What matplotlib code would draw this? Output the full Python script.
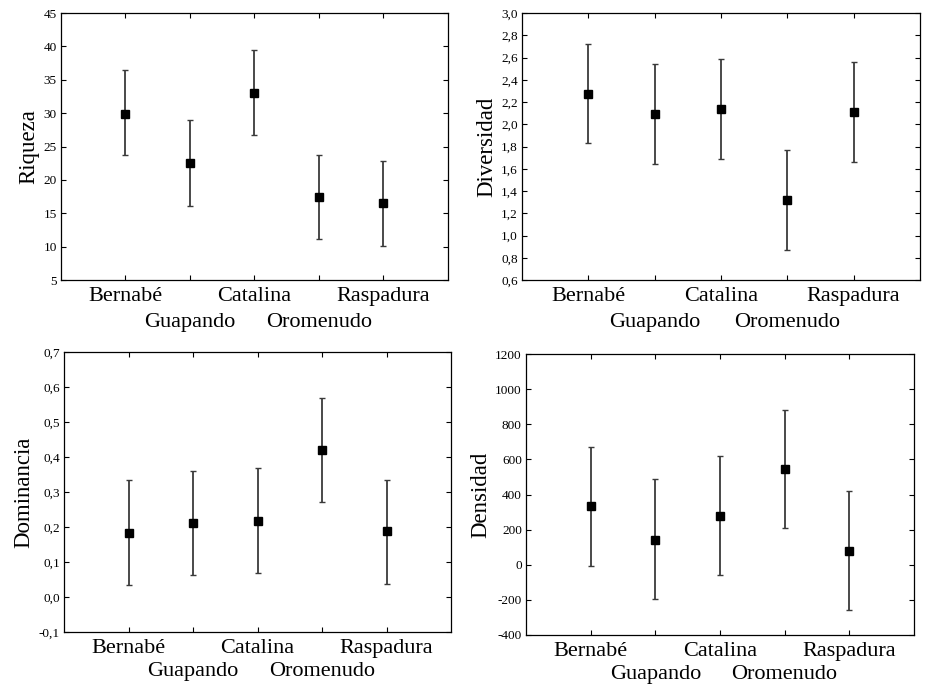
import numpy as np
import matplotlib
matplotlib.use("Agg")
import matplotlib.pyplot as plt
from matplotlib.ticker import FuncFormatter

plt.rcParams['font.family'] = ['Liberation Serif', 'DejaVu Serif']
plt.rcParams['axes.unicode_minus'] = False

sites = ["Bernabé", "Guapando", "Catalina", "Oromenudo", "Raspadura"]

riqueza_mean = [29.9, 22.6, 33.0, 17.5, 16.6]
riqueza_low = [23.7, 16.1, 26.7, 11.2, 10.1]
riqueza_high = [36.4, 29.0, 39.4, 23.8, 22.9]

diversidad_mean = [2.27, 2.09, 2.14, 1.32, 2.11]
diversidad_low = [1.83, 1.64, 1.69, 0.87, 1.66]
diversidad_high = [2.72, 2.54, 2.59, 1.77, 2.56]

dominancia_mean = [0.183, 0.212, 0.216, 0.420, 0.188]
dominancia_low = [0.033, 0.062, 0.068, 0.271, 0.036]
dominancia_high = [0.334, 0.360, 0.370, 0.570, 0.334]

densidad_mean = [336, 142, 275, 545, 80]
densidad_low = [-6, -194, -57, 207, -257]
densidad_high = [671, 486, 619, 883, 418]

# name, data, y ticks, label format, axes rect, offset of the second row of names
panels = [
    ("Riqueza", riqueza_mean, riqueza_low, riqueza_high, np.arange(5, 46, 5), "{:.0f}",
     [0.0657, 0.5924, 0.417, 0.3886], 34),
    ("Diversidad", diversidad_mean, diversidad_low, diversidad_high, np.arange(0.6, 3.01, 0.2), "{:.1f}",
     [0.5625, 0.5924, 0.4289, 0.3886], 34),
    ("Dominancia", dominancia_mean, dominancia_low, dominancia_high, np.arange(-0.1, 0.71, 0.1), "{:.1f}",
     [0.069, 0.080, 0.417, 0.4076], 31.5),
    ("Densidad", densidad_mean, densidad_low, densidad_high, np.arange(-400, 1201, 200), "{:.0f}",
     [0.5668, 0.0757, 0.418, 0.409], 31.5),
]

fig = plt.figure(figsize=(9.28, 6.87), dpi=100)

for name, mean, low, high, yticks, fmt, rect, row2 in panels:
    ax = fig.add_axes(rect)
    x = np.arange(1, len(sites) + 1)
    mean = np.array(mean)
    yerr = [mean - np.array(low), np.array(high) - mean]
    ax.errorbar(x, mean, yerr=yerr, fmt='none', ecolor='#3a3a3a',
                elinewidth=1.3, capsize=2.5, capthick=1.0)
    ax.plot(x, mean, 's', color='black', markersize=5.5, zorder=3)
    ax.set_xlim(0, 6)
    ax.set_ylim(yticks[0], yticks[-1])
    ax.set_yticks(yticks)
    ax.yaxis.set_major_formatter(FuncFormatter(lambda v, p, f=fmt: f.format(v).replace('.', ',').replace('-0,0', '0,0')))
    ax.set_xticks(x)
    # first row of site names as tick labels, second row underneath
    ax.set_xticklabels([s if i % 2 == 0 else "" for i, s in enumerate(sites)], fontsize=16)
    for i, s in enumerate(sites):
        if i % 2 == 1:
            ax.annotate(s, xy=(x[i], 0), xycoords=ax.get_xaxis_transform(),
                        xytext=(0, -row2), textcoords='offset points',
                        ha='center', va='baseline', fontsize=16)
    ax.tick_params(axis='y', labelsize=9.5, direction='in', right=True, length=3.5, pad=3)
    ax.tick_params(axis='x', direction='in', top=True, length=3.5, pad=5)
    ax.set_ylabel(name, fontsize=16.5, labelpad=3)
    for sp in ax.spines.values():
        sp.set_linewidth(0.9)

plt.savefig('out.png', dpi=100)
